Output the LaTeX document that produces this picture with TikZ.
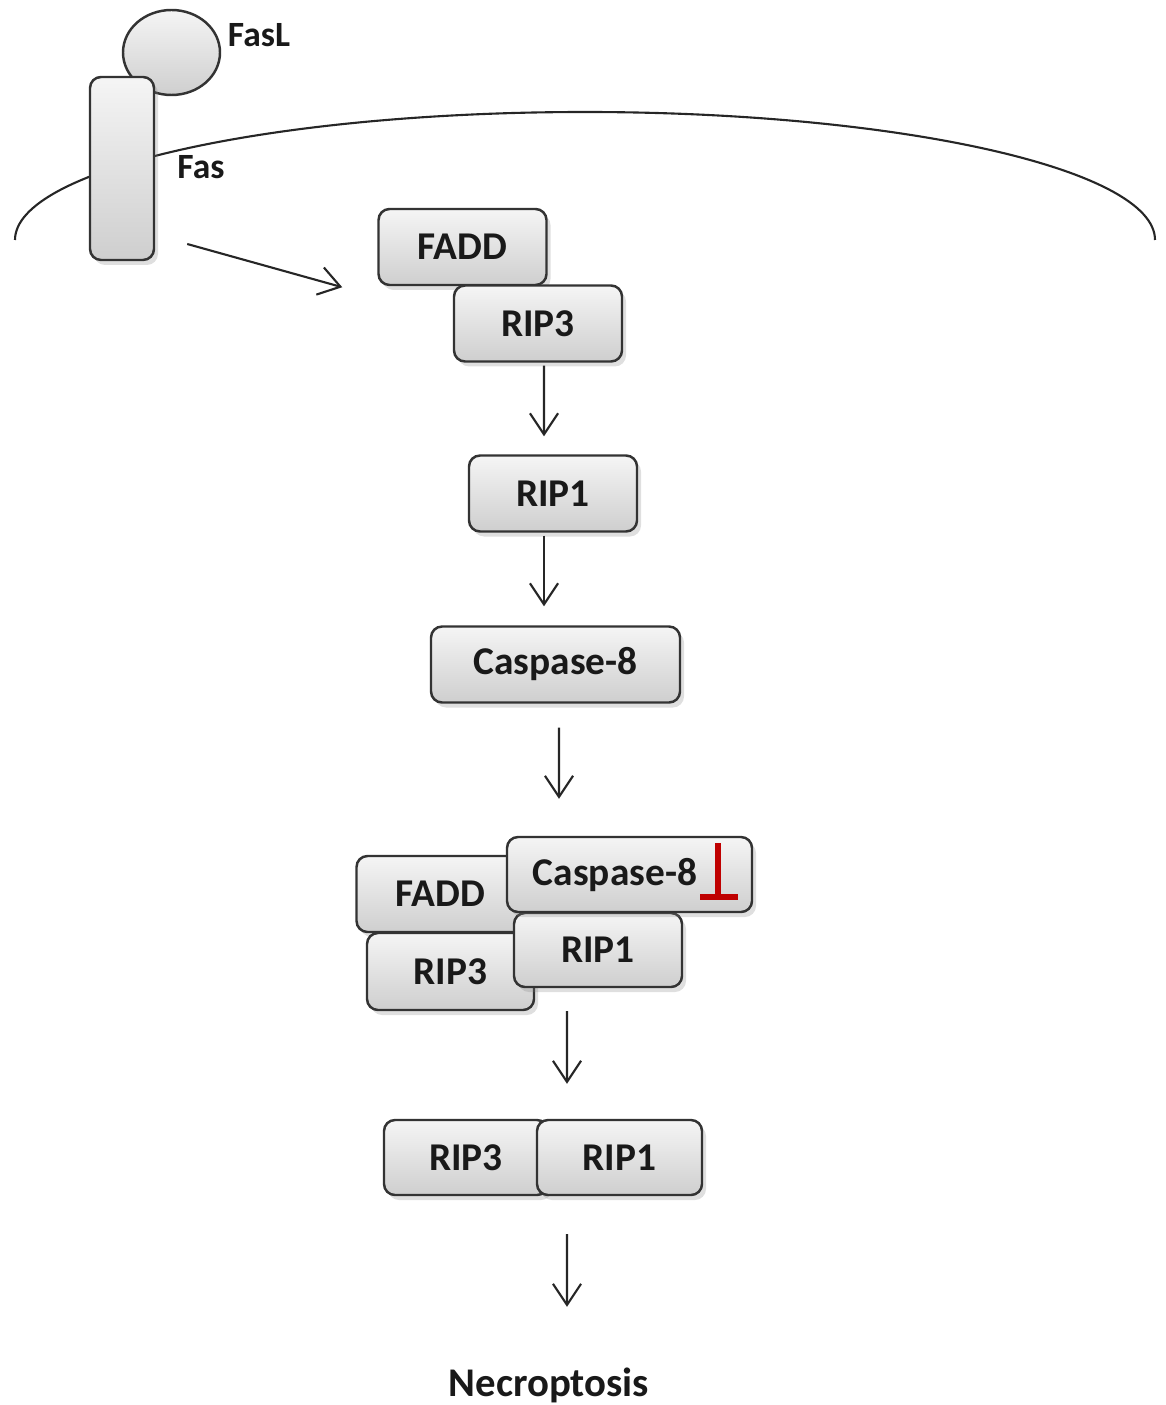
\documentclass[tikz,border=0pt]{standalone}
\usepackage{fontspec}
\setmainfont{Carlito}
\usetikzlibrary{arrows.meta}
\usetikzlibrary{shadows}
\usetikzlibrary{shapes.geometric}
\usetikzlibrary{positioning}

\tikzset{
    prot/.style={draw=black!80, line width=0.7pt, rounded corners=1.1mm,
        top color=gray!8, bottom color=gray!38,
        drop shadow={opacity=0.25, shadow xshift=0.4mm, shadow yshift=-0.5mm},
        font=\fontsize{11.2}{13}\selectfont\bfseries, text=black!90,
        minimum width=16.8mm, minimum height=7.6mm, inner sep=0pt},
    act/.style={-{Straight Barb[length=6pt,width=8pt]}, line width=0.6pt, black!85},
    lbl/.style={font=\fontsize{10.1}{12}\selectfont\bfseries, text=black!90, inner sep=0pt},
    inh/.style={line width=1.5pt, red!75!black}
}

\begin{document}
\begin{tikzpicture}[x=0.1mm,y=-0.1mm]
                \useasboundingbox (0,0) rectangle (1165,1405);

                % membrane and receptor
                \draw[line width=0.6pt, black!85] (15,240) arc[start angle=180, end angle=360, x radius=570, y radius=128];
                \node[draw=black!80, line width=0.7pt, ellipse, top color=gray!8, bottom color=gray!38,
                    minimum width=9.7mm, minimum height=8.5mm, inner sep=0pt] (fasl) at (171.5,52.5) {};
                \node[prot, minimum width=6.4mm, minimum height=18.3mm] (fas) at (122,168.5) {};
                \node[lbl] (fasltext) at (259,35) {FasL};
                \node[lbl] (fastext) at (201,167) {Fas};

                % first complex
                \node[prot] (fadda) at (462.5,247) {FADD};
                \node[prot] (rip3a) at (538,323.5) {RIP3};
                \node[prot] (rip1a) at (553,493.5) {RIP1};
                \node[prot, minimum width=24.9mm] (caspa) at (555.5,664.5) {Caspase-8};

                % necrosome
                \node[prot] (faddb) at (440.5,894) {FADD};
                \node[prot, minimum width=16.7mm, minimum height=7.7mm] (rip3b) at (450.5,971.5) {RIP3};
                \node[prot, minimum height=7.4mm] (rip1b) at (598,950) {RIP1};
                \node[prot, minimum width=24.5mm, minimum height=7.5mm] (caspb) at (629.5,874.5) {Caspase-8\rule{2.9mm}{0pt}};
                \draw[inh] (718,843) -- (718,897) (700,897) -- (738,897);

                \node[prot, minimum width=16.4mm, minimum height=7.5mm] (rip3c) at (466,1157.5) {RIP3};
                \node[prot, minimum width=16.5mm, minimum height=7.5mm] (rip1c) at (619.5,1157.5) {RIP1};
                \node[lbl, font=\fontsize{11.6}{13}\selectfont\bfseries] (necro) at (549,1385) {Necroptosis};

                % arrows
                \draw[act] ([xshift=3.2mm,yshift=-7.55mm]fas.east) -- ([xshift=-3.5mm,yshift=-0.1mm]fadda.south west);
                \draw[act] ([xshift=0.6mm,yshift=-0.3mm]rip3a.south) -- ([xshift=-0.9mm,yshift=1.8mm]rip1a.north);
                \draw[act] ([xshift=-0.9mm,yshift=-0.3mm]rip1a.south) -- ([xshift=-1.15mm,yshift=1.9mm]caspa.north);
                \draw[act] ([xshift=0.35mm,yshift=-2.4mm]caspa.south) -- ([xshift=-7.05mm,yshift=3.7mm]caspb.north);
                \draw[act] ([xshift=-3.1mm,yshift=-2.3mm]rip1b.south) -- ([xshift=-5.25mm,yshift=3.5mm]rip1c.north);
                \draw[act] ([xshift=-5.25mm,yshift=-3.8mm]rip1c.south) -- ([xshift=1.8mm,yshift=6mm]necro.north);
            \end{tikzpicture}
\end{document}
